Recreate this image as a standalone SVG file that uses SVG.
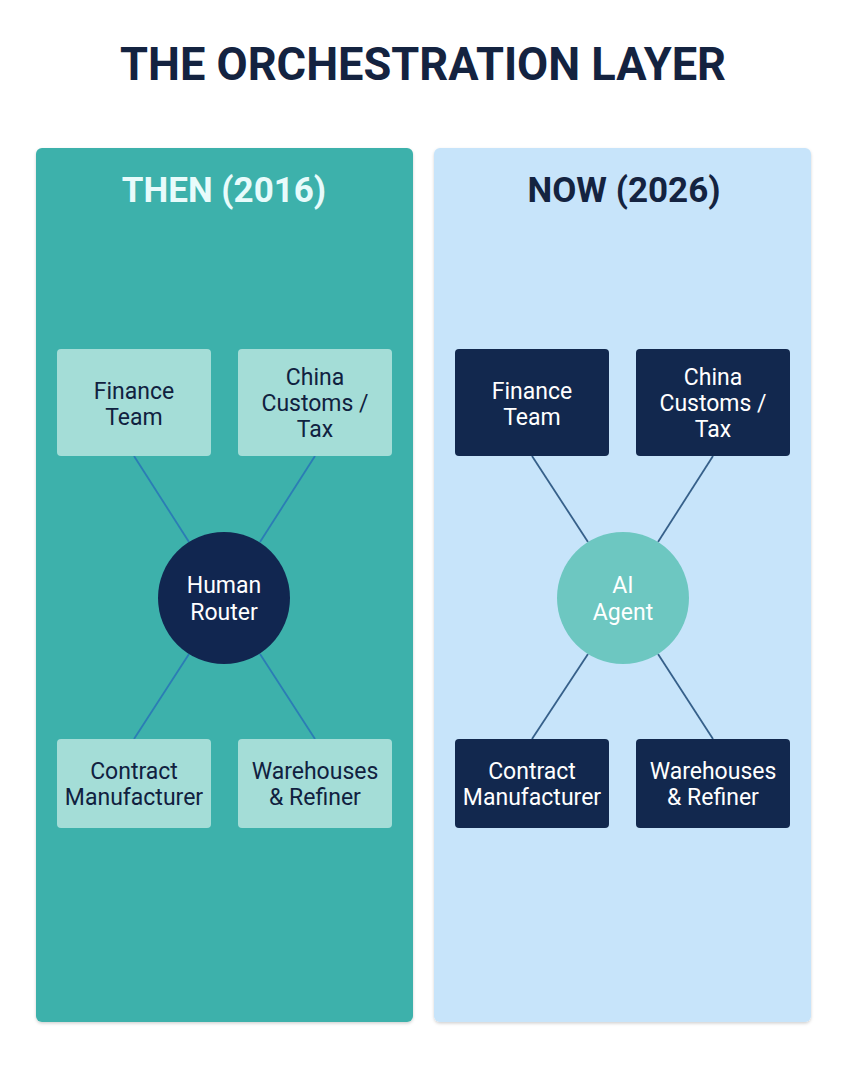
<svg xmlns="http://www.w3.org/2000/svg" width="845" height="1078" viewBox="0 0 845 1078">
  <style>
    text { font-family: Roboto, "Liberation Sans", sans-serif; text-anchor: middle; }
    .title { font-size: 45.5px; font-weight: 700; fill: #142340; }
    .head { font-size: 35px; font-weight: 700; }
    .lbl { font-size: 23px; font-weight: 400; }
    .dk { fill: #10213f; }
    .lt { fill: #ffffff; }
    .lbox { fill: #a4ddd7; }
    .dbox { fill: #12284e; }
    .lline { stroke: #2b7db5; stroke-width: 1.8; fill: none; }
    .rline { stroke: #36608a; stroke-width: 1.8; fill: none; }
  </style>
  <defs>
    <filter id="sh" x="-5%" y="-5%" width="110%" height="110%">
      <feDropShadow dx="0" dy="1.5" stdDeviation="1.5" flood-color="#000" flood-opacity="0.18"/>
    </filter>
  </defs>
  <rect width="845" height="1078" fill="#ffffff"/>
  <text class="title" x="423" y="80" textLength="606" lengthAdjust="spacingAndGlyphs">THE ORCHESTRATION LAYER</text>

  <g id="panel-then">
    <rect x="36" y="148" width="377" height="874" rx="6" fill="#3cb1ab" filter="url(#sh)"/>
    <text class="head" x="224" y="202" fill="#e8fbfb">THEN (2016)</text>
  </g>
  <g id="panel-now">
    <rect x="434" y="148" width="377" height="874" rx="6" fill="#c7e4fa" filter="url(#sh)"/>
    <text class="head" x="624" y="202" fill="#142340">NOW (2026)</text>
  </g>

  <g id="connectors">
    <line class="lline" x1="134" y1="456" x2="189" y2="542"/>
    <line class="lline" x1="315" y1="456" x2="260" y2="542"/>
    <line class="lline" x1="134" y1="739" x2="189" y2="654"/>
    <line class="lline" x1="315" y1="739" x2="260" y2="654"/>
    <line class="rline" x1="532" y1="456" x2="588" y2="542"/>
    <line class="rline" x1="713" y1="456" x2="658" y2="542"/>
    <line class="rline" x1="532" y1="739" x2="588" y2="654"/>
    <line class="rline" x1="713" y1="739" x2="658" y2="654"/>
  </g>

  <g id="then-finance">
    <rect class="lbox" x="57" y="349" width="154" height="107" rx="4"/>
    <text class="lbl dk" x="134" y="399">Finance</text>
    <text class="lbl dk" x="134" y="425">Team</text>
  </g>
  <g id="then-china">
    <rect class="lbox" x="238" y="349" width="154" height="107" rx="4"/>
    <text class="lbl dk" x="315" y="385">China</text>
    <text class="lbl dk" x="315" y="411">Customs /</text>
    <text class="lbl dk" x="315" y="437">Tax</text>
  </g>
  <g id="then-router">
    <circle cx="224" cy="598" r="66" fill="#112650"/>
    <text class="lbl lt" x="224" y="593">Human</text>
    <text class="lbl lt" x="224" y="620">Router</text>
  </g>
  <g id="then-contract">
    <rect class="lbox" x="57" y="739" width="154" height="89" rx="4"/>
    <text class="lbl dk" x="134" y="779">Contract</text>
    <text class="lbl dk" x="134" y="805">Manufacturer</text>
  </g>
  <g id="then-warehouses">
    <rect class="lbox" x="238" y="739" width="154" height="89" rx="4"/>
    <text class="lbl dk" x="315" y="779">Warehouses</text>
    <text class="lbl dk" x="315" y="805">&amp; Refiner</text>
  </g>

  <g id="now-finance">
    <rect class="dbox" x="455" y="349" width="154" height="107" rx="4"/>
    <text class="lbl lt" x="532" y="399">Finance</text>
    <text class="lbl lt" x="532" y="425">Team</text>
  </g>
  <g id="now-china">
    <rect class="dbox" x="636" y="349" width="154" height="107" rx="4"/>
    <text class="lbl lt" x="713" y="385">China</text>
    <text class="lbl lt" x="713" y="411">Customs /</text>
    <text class="lbl lt" x="713" y="437">Tax</text>
  </g>
  <g id="now-agent">
    <circle cx="623" cy="598" r="66" fill="#6dc7c1"/>
    <text class="lbl lt" x="623" y="593">AI</text>
    <text class="lbl lt" x="623" y="620">Agent</text>
  </g>
  <g id="now-contract">
    <rect class="dbox" x="455" y="739" width="154" height="89" rx="4"/>
    <text class="lbl lt" x="532" y="779">Contract</text>
    <text class="lbl lt" x="532" y="805">Manufacturer</text>
  </g>
  <g id="now-warehouses">
    <rect class="dbox" x="636" y="739" width="154" height="89" rx="4"/>
    <text class="lbl lt" x="713" y="779">Warehouses</text>
    <text class="lbl lt" x="713" y="805">&amp; Refiner</text>
  </g>
</svg>
